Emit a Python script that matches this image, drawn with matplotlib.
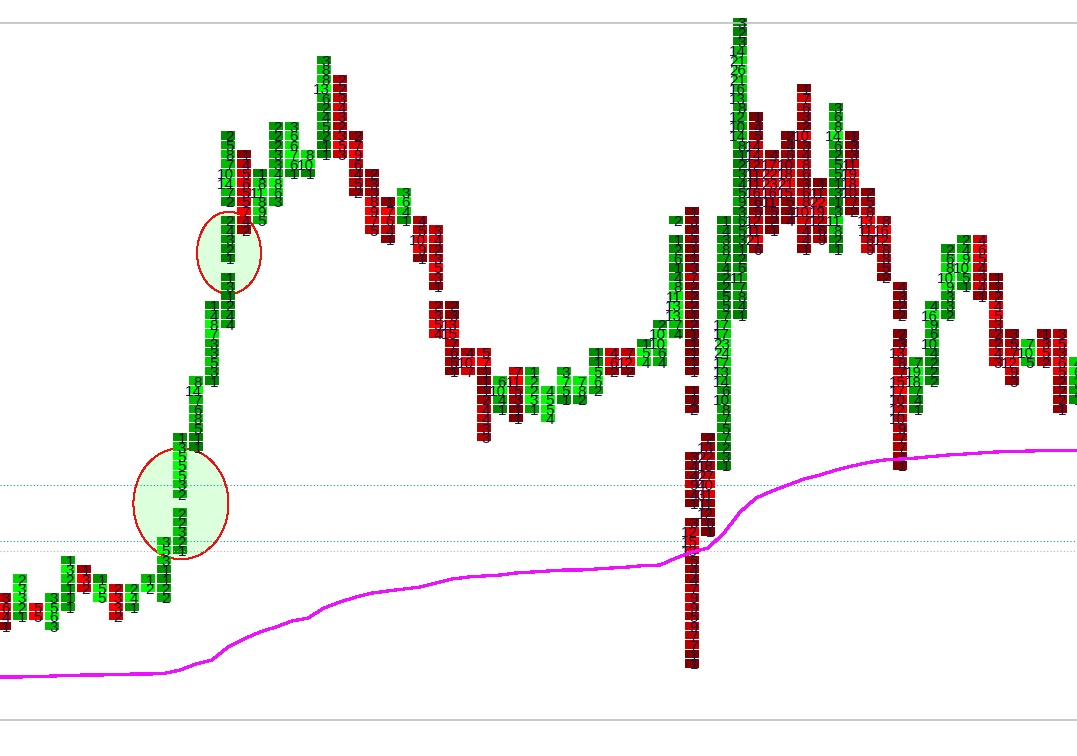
#!/usr/bin/env python3
import numpy as np
import matplotlib
import matplotlib.pyplot as plt
from matplotlib.patches import Ellipse

matplotlib.use('Agg')

# footprint columns: (column index, first price row, values top to bottom), None = empty level
up_cols = [
    (1, 59, [2, 3, 3, 2, 1]),
    (3, 61, [3, 5, 6, 3]),
    (4, 57, [1, 3, 2, 1, 1, 1]),
    (6, 59, [1, 5, 5]),
    (8, 60, [2, 4, 1]),
    (9, 59, [1, 2]),
    (10, 55, [3, 5, 3, 1, 1, 2, 2]),
    (11, 44, [1, 3, 5, 5, 5, 3, 2, None, 2, 2, 3, 2, 1]),
    (12, 38, [8, 14, 7, 6, 8, 5, 1, 1]),
    (13, 30, [1, 4, 8, 7, 3, 3, 5, 3, 1]),
    (14, 12, [2, 5, 8, 7, 10, 14, 7, 2, None, 2, 4, 3, 2, 1, None, 1, 3, 1, 2, 4, 4]),
    (16, 16, [1, 8, 11, 8, 9, 5]),
    (17, 11, [2, 2, 2, 3, 3, 4, 8, 6, 3]),
    (18, 11, [3, 6, 6, 7, 6, 1]),
    (19, 14, [8, 10, 1]),
    (20, 4, [3, 8, 8, 13, 6, 2, 4, 5, 2, 1, 1]),
    (25, 18, [3, 6, 4, 1]),
    (31, 38, [6, 10, 4, 1]),
    (33, 37, [1, 2, 2, 3, 1]),
    (34, 39, [4, 5, 5, 4]),
    (35, 37, [3, 7, 5, 1]),
    (36, 38, [7, 8, 2]),
    (37, 35, [1, 1, 5, 6, 2]),
    (40, 34, [1, 5, 4]),
    (41, 32, [2, 10, 10, 6, 4]),
    (42, 21, [2, None, 1, 2, 6, 1, 4, 8, 11, 13, 13, 7, 4]),
    (45, 21, [1, 4, 3, 8, 7, 4, 2, 2, 5, 5, 7, 17, 17, 23, 24, 17, 13, 14, 6, 10, 8, 7, 5, 7, 2, 3, 1]),
    (46, 0, [3, 2, 3, 14, 21, 26, 21, 16, 13, 8, 12, 10, 14, 8, 1, 2, 3, 4, 5, 9,
             3, 6, 5, 3, 1, 2, 6, 11, 7, 8, 4, 1]),
    (52, 9, [3, 6, 8, 14, 6, 2, 5, 5, 1, 3, 1, 3, 11, 8, 2, 1]),
    (57, 36, [7, 19, 18, 7, 4, 1]),
    (58, 30, [4, 16, 9, 6, 10, 4, 2, 2, 2]),
    (59, 24, [2, 6, 8, 10, 9, 3, 3, 2]),
    (60, 23, [2, 4, 9, 10, 5, 1]),
    (64, 34, [7, 10, 5]),
    (67, 36, [4, 6, 3, 2, 1]),
]

down_cols = [
    (0, 61, [3, 6, 4, 1]),
    (2, 62, [5, 5]),
    (5, 58, [1, 3, 2]),
    (7, 60, [2, 3, 3, 2]),
    (15, 14, [1, 4, 5, 6, 5, 5, 7, 4, 2]),
    (21, 6, [2, 2, 3, 4, 3, 2, 3, 5, 3]),
    (22, 12, [2, 7, 9, 6, 4, 5, 2]),
    (23, 16, [2, 3, 3, 8, 9, 7, 5]),
    (24, 19, [1, 7, 6, 4, 1]),
    (26, 21, [4, 5, 10, 9, 1]),
    (27, 22, [3, 4, 2, 3, 5, 3, 1, None, 2, 3, 5, 4]),
    (28, 30, [2, 3, 13, 15, 7, 6, 5, 1]),
    (29, 35, [4, 10, 7]),
    (30, 35, [5, 7, 1, 1, 1, 2, 4, 4, 3, 3]),
    (32, 37, [7, 11, 5, 3, 1, 1]),
    (38, 35, [4, 6, 2]),
    (39, 35, [7, 12, 2]),
    (43, 20, [1, 3, 2, 4, 1, 1, 3, 7, 2, 2, 2, 1, 2, 1, 1, 1, 1, 1, None, 1, 1, 2,
              None, None, None, None, 3, 4, 4, 9, 4, 1, None,
              3, 12, 15, 13, 5, 4, 4, 7, 9, 9, 5, 9, 7, 7, 1, 1]),
    (44, 44, [2, 13, 22, 18, 27, 40, 31, 11, 12, 6, 1]),
    (47, 10, [1, 4, 5, 14, 14, 12, 11, 11, 16, 6, 5, 12, 11, 21, 6]),
    (48, 14, [4, 17, 22, 23, 16, 11, 5, 2, 1]),
    (49, 12, [2, 4, 6, 10, 18, 21, 15, 5, 4, 4]),
    (50, 7, [1, 7, 6, 3, 2, 10, 3, 4, 8, 6, 3, 6, 8, 10, 7, 4, 4, 1]),
    (51, 17, [1, 11, 22, 19, 12, 6, 9]),
    (53, 12, [1, 3, 3, 11, 19, 18, 10, 7, 2]),
    (54, 18, [2, 5, 8, 13, 11, 8, 9]),
    (55, 21, [8, 16, 12, 8, 8, 5, 2]),
    (56, 28, [4, 3, 2, 2, None, 2, 3, 13, 8, 7, 15, 17, 10, 12, 10, 9, 7, 7, 4, 1]),
    (61, 23, [4, 6, 5, 4, 3, 4, 1]),
    (62, 27, [1, 1, 2, 4, 5, 3, 2, 2, 4, 3]),
    (63, 33, [3, 5, 7, 12, 9, 3]),
    (65, 33, [1, 3, 5, 2]),
    (66, 33, [3, 5, 3, 6, 5, 2, 2, 2, 1]),
]

# vwap per column, in price rows
vwap = [69.88, 69.88, 69.83, 69.78, 69.72, 69.67, 69.67, 69.62, 69.57, 69.57,
        69.51, 69.14, 68.5, 68.08, 66.7, 65.85, 65.1, 64.58, 63.95, 63.63,
        62.57, 61.93, 61.4, 60.98, 60.76, 60.55, 60.34, 59.92, 59.49, 59.28,
        59.17, 59.07, 58.85, 58.75, 58.64, 58.54, 58.54, 58.43, 58.32, 58.22,
        58.06, 58.01, 57.26, 56.63, 56.2, 54.61, 52.39, 50.9, 50.16, 49.52,
        48.89, 48.46, 47.93, 47.51, 47.14, 46.87, 46.77, 46.66, 46.5, 46.34,
        46.24, 46.13, 46.02, 45.97, 45.92, 45.88, 45.88, 45.88]

border_levels = [0.53, 74.44]
teal_levels = [49.52, 55.46]
gray_level = 56.52

# highlighted areas: centre col, centre row, width cols, height rows
ellipses = [(11.06, 51.5, 5.94, 11.8), (14.06, 24.9, 4.0, 8.7)]


def shade(value, col_max, up):
    level = (120 + 135 * value / col_max) / 255
    return (0, level, 0) if up else (level, 0, 0)


def draw_cols(ax, cols, up):
    for col, first_row, values in cols:
        col_max = max(v for v in values if v is not None)
        for n, value in enumerate(values):
            if value is None:
                continue
            row = first_row + n
            ax.bar(col, 0.89, bottom=row, width=0.875, color=shade(value, col_max, up),
                   align='center', linewidth=0, zorder=3)
            ax.text(col + 0.37, row + 1.08, str(value), ha='right', va='baseline',
                    fontsize=11, color='#14143a', zorder=5, family='Liberation Sans')


fig = plt.figure(figsize=(10.77, 7.56), dpi=100)
ax = fig.add_axes([0, 0, 1, 1])
ax.set_xlim(-0.25, 67.06)
ax.set_ylim(78.26, -1.91)
ax.axis('off')

for cx, cy, w, h in ellipses:
    ax.add_patch(Ellipse((cx, cy), w, h, facecolor='#dcffdc', edgecolor='#ee1111',
                         linewidth=0.7, antialiased=False, zorder=1))

for level in teal_levels:
    ax.axhline(level, color='#109a9a', linewidth=0.8, linestyle=(0, (1, 2)), zorder=2)
ax.axhline(gray_level, color='#b0b0b0', linewidth=0.8, linestyle=(0, (1, 2)), zorder=4)

draw_cols(ax, up_cols, True)
draw_cols(ax, down_cols, False)

for level in border_levels:
    ax.axhline(level, color='#c0c0c0', linewidth=1.2, zorder=4)

cols = np.arange(len(vwap))
ax.plot(np.r_[-0.25, cols], np.r_[vwap[0], vwap], color='#ee11ff', linewidth=1.6,
        antialiased=False, zorder=6)

fig.savefig('out.png', dpi=100)
